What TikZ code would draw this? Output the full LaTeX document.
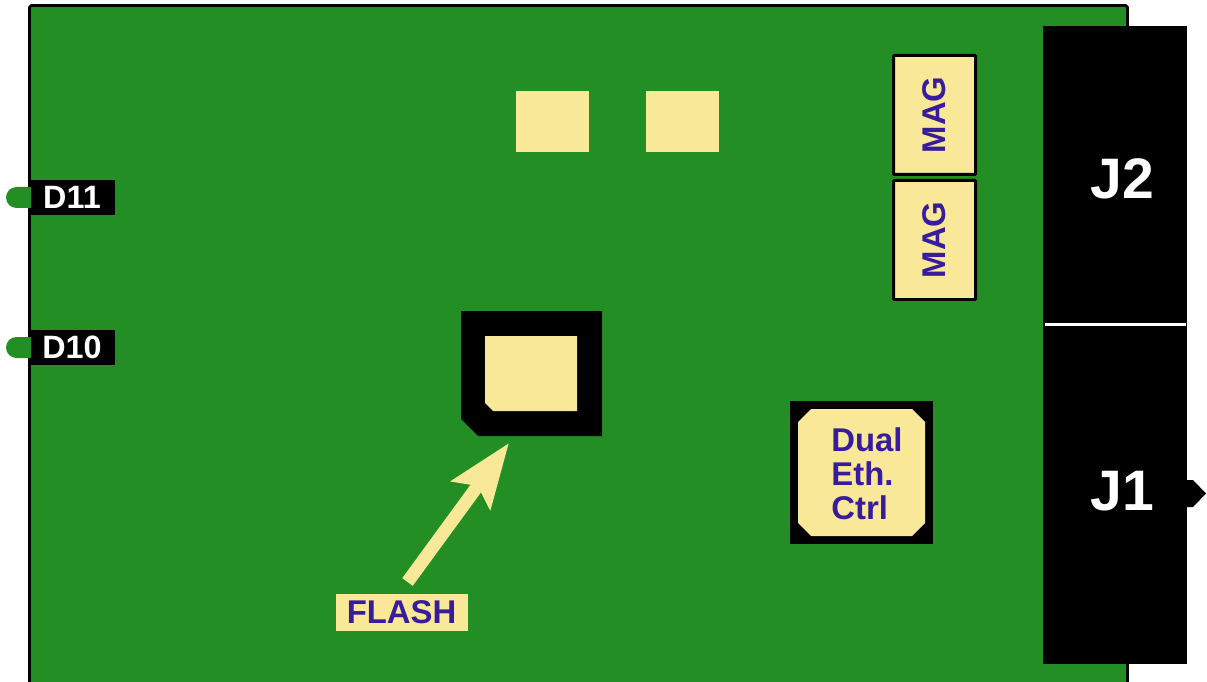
\documentclass[tikz,border=0pt]{standalone}
\usepackage{fontspec}
\setmainfont{Liberation Sans}
\usepackage{tikz}
\usetikzlibrary{arrows.meta,shapes.misc}
\definecolor{boardgreen}{RGB}{35,142,35}
\definecolor{padyellow}{RGB}{249,232,151}
\definecolor{labelblue}{RGB}{56,28,158}

\begin{document}
\begin{tikzpicture}
[
x=0.02cm,y=-0.02cm,
part/.style 2 args={inner sep=0pt,outer sep=0pt,minimum width=#1*0.02cm,minimum height=#2*0.02cm},
pad/.style 2 args={part={#1}{#2},fill=padyellow},
blackbox/.style 2 args={part={#1}{#2},fill=black},
mag/.style={part={82}{119},fill=padyellow,draw=black,line width=0.06cm,rounded corners=0.5pt,text=labelblue,
            font=\fontsize{18.7}{19}\selectfont\bfseries},
name text/.style={text=labelblue,font=\fontsize{18.7}{19.3}\selectfont\bfseries,align=left,inner sep=0pt},
led/.style={part={25}{21},fill=boardgreen,rounded rectangle,rounded rectangle right arc=none},
ledlabel/.style={blackbox={86}{35},text=white,font=\fontsize{18.4}{19}\selectfont\bfseries},
jack/.style={text=white,inner sep=0pt,font=\fontsize{32.5}{34}\selectfont\bfseries},
flash arrow/.style={draw=padyellow,line width=0.26cm,
            -{Stealth[length=1.28cm,width=0.94cm,inset=0.22cm,fill=padyellow]}},
]
\useasboundingbox (0,0) rectangle (1207,682);

%Draw the board
\draw[fill=boardgreen,line width=0.054cm,rounded corners=1pt] (29.5,682) -- (29.5,5.5) -- (1127.5,5.5) -- (1127.5,682);

%Place the nodes
\node[ledlabel] (d11) at (72,197.5) {D11};
\node[ledlabel] (d10) at (72,347.5) {D10};
\node[led] (d11led) at (18.5,197.5) {};
\node[led] (d10led) at (18.5,347.5) {};
\node[pad={73}{61}] (pada) at (552.5,121.5) {};
\node[pad={73}{61}] (padb) at (682.5,121.5) {};
\node[mag] (maga) at (934.5,115) {\rotatebox{90}{MAG}};
\node[mag] (magb) at (934.5,240) {\rotatebox{90}{MAG}};
\node[blackbox={144}{298}] (j2) at (1115,175) {};
\node[blackbox={144}{340}] (j1) at (1115,494) {};
\node[jack] at (1122,179) (j2text) {J2};
\node[jack] at (1122,491) (j1text) {J1};
\fill (1186,480) -- (1193,480) -- (1206,493.5) -- (1193,507) -- (1186,507) -- cycle;
%Flash device
\fill (461,311) -- (602,311) -- (602,436) -- (478,436) -- (461,419) -- cycle;
\fill[padyellow] (485,336) -- (577,336) -- (577,411) -- (493,411) -- (485,403) -- cycle;
\node[pad={132}{37}] (flash) at (402,612.5) {};
\node[name text] (flashtext) at (401.5,612.5) {FLASH};
%Ethernet controller
\node[blackbox={143}{143}] (eth) at (861.5,472.5) {};
\fill[padyellow] (811,409) -- (912,409) -- (925,422) -- (925,523) -- (912,536) -- (811,536) -- (798,523) -- (798,422) -- cycle;
\node[name text] (ethtext) at (867,473.5) {Dual\\Eth.\\Ctrl};
%Draw the connections
\coordinate (flashtail) at (407.5,582);
\coordinate (flashtip) at (509,443);
\draw[flash arrow] (flashtail) -- (flashtip);
\coordinate (jwest) at (1045,324.5);
\coordinate (jeast) at (1186,324.5);
\draw[white,line width=0.06cm] (jwest) -- (jeast);
\end{tikzpicture}
\end{document}
